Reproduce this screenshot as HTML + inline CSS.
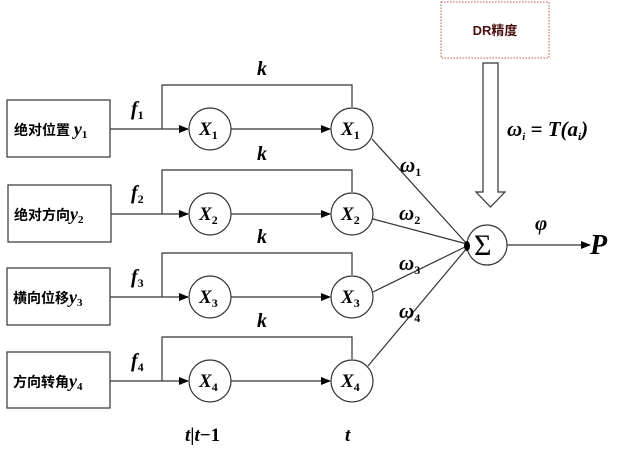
<!DOCTYPE html>
<html><head><meta charset="utf-8"><style>
body{margin:0;background:#fff;}
text{font-family:"Liberation Serif",serif;font-weight:bold;font-style:italic;}
.cn{font-family:"Liberation Sans","Noto Sans CJK SC",sans-serif;font-style:normal;font-weight:bold;}
</style></head><body>
<svg width="619" height="452" viewBox="0 0 619 452" xmlns="http://www.w3.org/2000/svg">
<defs><marker id="a" markerWidth="10" markerHeight="8" refX="9" refY="4" orient="auto" markerUnits="userSpaceOnUse"><path d="M0,0 L10,4 L0,8 Z" fill="#000"/></marker></defs>
<g stroke="#333" stroke-width="1.2" fill="none">
<rect x="7" y="100" width="103" height="57"/>
<rect x="8" y="185" width="103" height="57"/>
<rect x="7" y="268" width="103" height="57"/>
<rect x="7" y="352" width="103" height="56"/>
<path d="M162,129 V85 H352 V107 M162,214 V170 H352 V192 M162,297 V253 H352 V275 M162,381 V337 H352 V359"/>
<line x1="110" y1="129" x2="188" y2="129" marker-end="url(#a)"/>
<line x1="111" y1="214" x2="188" y2="214" marker-end="url(#a)"/>
<line x1="110" y1="297" x2="188" y2="297" marker-end="url(#a)"/>
<line x1="110" y1="381" x2="188" y2="381" marker-end="url(#a)"/>
<line x1="231" y1="129" x2="330" y2="129" marker-end="url(#a)"/>
<line x1="231" y1="214" x2="330" y2="214" marker-end="url(#a)"/>
<line x1="231" y1="297" x2="330" y2="297" marker-end="url(#a)"/>
<line x1="231" y1="381" x2="330" y2="381" marker-end="url(#a)"/>
<circle cx="210" cy="129" r="21"/><circle cx="352" cy="129" r="21"/>
<circle cx="210" cy="214" r="21"/><circle cx="352" cy="214" r="21"/>
<circle cx="210" cy="297" r="21"/><circle cx="352" cy="297" r="21"/>
<circle cx="210" cy="381" r="21"/><circle cx="352" cy="381" r="21"/>
<line x1="372" y1="139" x2="467" y2="244"/>
<line x1="373" y1="219" x2="467" y2="244"/>
<line x1="373" y1="292" x2="467" y2="246"/>
<line x1="368" y1="366" x2="467" y2="248"/>
<circle cx="487" cy="245" r="20"/>
<line x1="507" y1="245" x2="590" y2="245" marker-end="url(#a)"/>
<path d="M483,63 H498 V192 H505 L490.5,207 L476,192 H483 Z"/>
</g>
<ellipse cx="467" cy="246" rx="3" ry="5" fill="#000"/>
<rect x="441" y="2" width="108" height="56" fill="none" stroke="#c05050" stroke-width="1" stroke-dasharray="1.5,1.5"/>
<text x="495" y="35" class="cn" font-size="13" fill="#4a1010" text-anchor="middle">DR精度</text>
<g font-size="20">
<text x="257" y="75">k</text><text x="257" y="160">k</text><text x="257" y="243">k</text><text x="257" y="327">k</text>
</g>
<g font-size="20">
<text x="131" y="115">f<tspan font-size="12" font-style="normal" dy="4">1</tspan></text>
<text x="131" y="199">f<tspan font-size="12" font-style="normal" dy="4">2</tspan></text>
<text x="131" y="283">f<tspan font-size="12" font-style="normal" dy="4">3</tspan></text>
<text x="131" y="367">f<tspan font-size="12" font-style="normal" dy="4">4</tspan></text>
</g>
<g font-size="19">
<text x="199" y="135">X<tspan font-size="12" font-style="normal" dy="4">1</tspan></text>
<text x="341" y="135">X<tspan font-size="12" font-style="normal" dy="4">1</tspan></text>
<text x="199" y="220">X<tspan font-size="12" font-style="normal" dy="4">2</tspan></text>
<text x="341" y="220">X<tspan font-size="12" font-style="normal" dy="4">2</tspan></text>
<text x="199" y="303">X<tspan font-size="12" font-style="normal" dy="4">3</tspan></text>
<text x="341" y="303">X<tspan font-size="12" font-style="normal" dy="4">3</tspan></text>
<text x="199" y="387">X<tspan font-size="12" font-style="normal" dy="4">4</tspan></text>
<text x="341" y="387">X<tspan font-size="12" font-style="normal" dy="4">4</tspan></text>
</g>
<g font-size="14" class="cn">
<text x="14" y="135" class="cn">绝对位置 <tspan font-family="Liberation Serif" font-style="italic" font-size="18">y</tspan><tspan font-family="Liberation Serif" font-size="11" dy="3">1</tspan></text>
<text x="14" y="220" class="cn">绝对方向<tspan font-family="Liberation Serif" font-style="italic" font-size="18">y</tspan><tspan font-family="Liberation Serif" font-size="11" dy="3">2</tspan></text>
<text x="13" y="303" class="cn">横向位移<tspan font-family="Liberation Serif" font-style="italic" font-size="18">y</tspan><tspan font-family="Liberation Serif" font-size="11" dy="3">3</tspan></text>
<text x="13" y="387" class="cn">方向转角<tspan font-family="Liberation Serif" font-style="italic" font-size="18">y</tspan><tspan font-family="Liberation Serif" font-size="11" dy="3">4</tspan></text>
</g>
<g font-size="21">
<text x="400" y="172">ω<tspan font-size="12" font-style="normal" dy="4">1</tspan></text>
<text x="399" y="220">ω<tspan font-size="12" font-style="normal" dy="4">2</tspan></text>
<text x="399" y="270">ω<tspan font-size="12" font-style="normal" dy="4">3</tspan></text>
<text x="399" y="318">ω<tspan font-size="12" font-style="normal" dy="4">4</tspan></text>
<text x="507" y="136">ω<tspan font-size="11" dy="4">i</tspan><tspan dy="-4"> = T(a</tspan><tspan font-size="11" dy="4">i</tspan><tspan dy="-4">)</tspan></text>
<text x="535" y="230">φ</text>
</g>
<text x="474" y="255" font-size="30" style="font-style:normal;font-weight:normal">Σ</text>
<text x="590" y="254" font-size="28">P</text>
<text x="185" y="441" font-size="19">t<tspan font-style="normal">|</tspan>t<tspan font-style="normal">−1</tspan></text>
<text x="345" y="441" font-size="19">t</text>
</svg>
</body></html>
